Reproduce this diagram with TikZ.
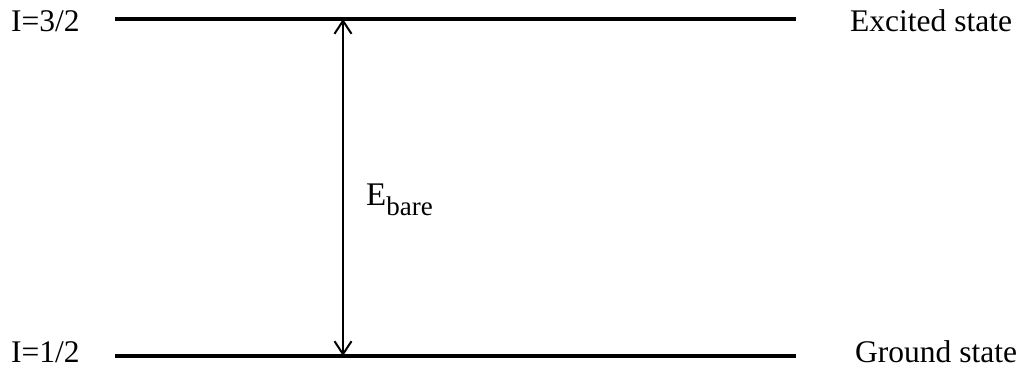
\documentclass[tikz,border=0pt]{standalone}
\usepackage{fontspec}
\setmainfont{Liberation Serif}
\usetikzlibrary{arrows.meta}
\tikzset{
  level/.style={line width=3.6pt},
  lbl/.style={font=\fontsize{31.5}{36}\selectfont, inner sep=0pt, anchor=west},
  gap/.style={line width=1.4pt, {Straight Barb[length=13pt,width=17pt,line width=2pt]}-{Straight Barb[length=13pt,width=17pt,line width=2pt]}}
}
\begin{document}
\begin{tikzpicture}[x=1pt,y=-1pt]
\useasboundingbox (0,0) rectangle (1028,370);
\coordinate (tl) at (115,19);
\coordinate (tr) at (796,19);
\coordinate (bl) at (115,356);
\coordinate (br) at (796,356);
\coordinate (at) at (343,19);
\coordinate (ab) at (343,356);
\draw[level] (tl) -- (tr);
\draw[level] (bl) -- (br);
\draw[gap] (at) -- (ab);
\node[lbl] (i3) at (11,21) {I=3/2};
\node[lbl] (i1) at (11,352) {I=1/2};
\node[lbl] (ex) at (850,21) {Excited state};
\node[lbl] (gr) at (855,352) {Ground state};
\node[lbl, anchor=base west, font=\fontsize{33}{38}\selectfont] (eb) at (366,205) {E\raisebox{-10pt}{\fontsize{27}{32}\selectfont bare}};
\end{tikzpicture}
\end{document}
